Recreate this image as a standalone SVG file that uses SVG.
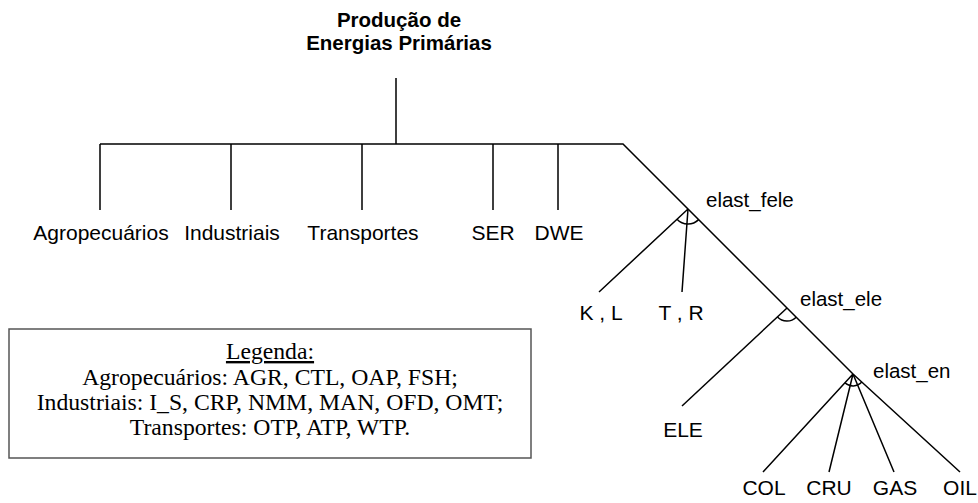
<svg xmlns="http://www.w3.org/2000/svg" width="978" height="503" viewBox="0 0 978 503">
<style>
.ln{stroke:#000;stroke-width:1.5;fill:none}
.lb{font-family:"Liberation Sans",Arial,sans-serif;font-size:21px;fill:#000;text-anchor:middle}
.el{font-family:"Liberation Sans",Arial,sans-serif;font-size:20.5px;fill:#000}
.tt{font-family:"Liberation Sans",Arial,sans-serif;font-size:20.5px;font-weight:bold;fill:#000;text-anchor:middle}
.lg{font-family:"Liberation Serif","Times New Roman",serif;font-size:23.7px;fill:#000;text-anchor:middle}
</style>
<rect width="978" height="503" fill="#fff"/>
<g id="connectors">
<path class="ln" d="M396 78V144M100 144H623L853 374L960 472"/>
<path class="ln" d="M100 144V210M231 144V210M362 144V210M493 144V210M558 144V210"/>
<path class="ln" d="M688 209L599 292M688 209L682 292"/>
<path class="ln" d="M698.6 219.6A15 15 0 0 1 677 219.2"/>
<path class="ln" d="M787 308L682 406"/>
<path class="ln" d="M796.2 317.2A13 13 0 0 1 777.5 316.9"/>
<path class="ln" d="M853 374L763 472M853 374L829 472M853 374L894 472"/>
<path class="ln" d="M861.8 382.1A12 12 0 0 1 844.9 382.8"/>
</g>
<g id="root"><text class="tt" x="399" y="27">Produção de</text><text class="tt" x="399" y="50">Energias Primárias</text></g>
<g id="agro"><text class="lb" x="101" y="240">Agropecuários</text></g>
<g id="ind"><text class="lb" x="232" y="240">Industriais</text></g>
<g id="trans"><text class="lb" x="363" y="240">Transportes</text></g>
<g id="ser"><text class="lb" x="493" y="240">SER</text></g>
<g id="dwe"><text class="lb" x="559" y="240">DWE</text></g>
<g id="fele"><text class="el" x="706" y="207">elast_fele</text></g>
<g id="kl"><text class="lb" x="601" y="320">K , L</text></g>
<g id="tr"><text class="lb" x="681" y="320">T , R</text></g>
<g id="ele_n"><text class="el" x="800" y="306">elast_ele</text></g>
<g id="ele"><text class="lb" x="683" y="437">ELE</text></g>
<g id="en"><text class="el" x="873" y="378">elast_en</text></g>
<g id="col"><text class="lb" x="764" y="495">COL</text></g>
<g id="cru"><text class="lb" x="829" y="495">CRU</text></g>
<g id="gas"><text class="lb" x="895" y="495">GAS</text></g>
<g id="oil"><text class="lb" x="960" y="495">OIL</text></g>
<g id="legend">
<rect x="9" y="329" width="522" height="129" fill="#fff" stroke="#555" stroke-width="1.5"/>
<text class="lg" x="270" y="359" text-decoration="underline">Legenda:</text>
<text class="lg" x="270" y="385">Agropecuários: AGR, CTL, OAP, FSH;</text>
<text class="lg" x="270" y="410">Industriais: I_S, CRP, NMM, MAN, OFD, OMT;</text>
<text class="lg" x="270" y="435">Transportes: OTP, ATP, WTP.</text>
</g>
</svg>
